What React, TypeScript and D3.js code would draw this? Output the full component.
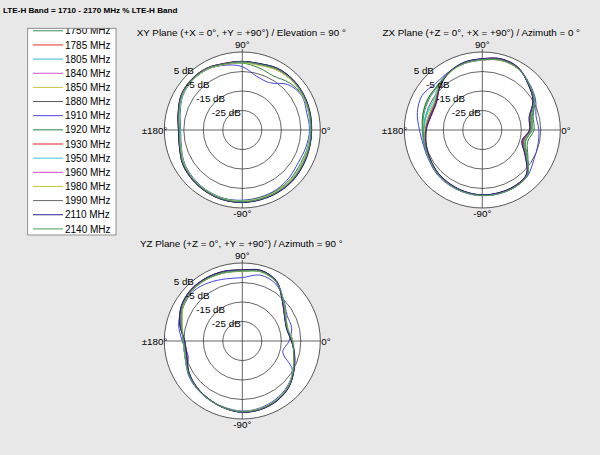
import React from "react";
import { scaleLinear, lineRadial, curveCatmullRomClosed } from "d3";

// measurement angles (deg, counter-clockwise from 0°)
const angles = [0, 15, 30, 45, 60, 75, 90, 105, 120, 135, 150, 165, 180, 195, 210, 225, 240, 255, 270, 285, 300, 315, 330, 345];

const freqs = ["1750 MHz", "1785 MHz", "1805 MHz", "1840 MHz", "1850 MHz", "1880 MHz", "1910 MHz", "1920 MHz", "1930 MHz", "1950 MHz", "1960 MHz", "1980 MHz", "1990 MHz", "2110 MHz", "2140 MHz"];

const lineColors = ["#3f8f55", "#e0302c", "#30bcd0", "#d050d0", "#c4c43a", "#555555", "#4646e0", "#2f7f45", "#d82020", "#38c4d8", "#d040c8", "#c8c840", "#666666", "#24248c", "#4a9a60"];

const ringTicks = [5, -5, -15, -25];

// gain in dB, one row per frequency, one value per angle
const xyGain = [
  [0.5, 0.8, 1.2, 1.0, 0.6, -0.3, -0.1, 0.1, 1.2, 1.4, 0.6, -1.5, -2.8, -1.8, 0.0, 1.0, 1.5, 1.9, 1.7, 1.4, 1.2, 1.0, 0.4, 0.2],
  [0.2, 0.4, 1.1, 1.6, 1.3, 0.0, 0.1, 0.3, 1.5, 1.7, 1.0, -1.1, -2.4, -1.8, 0.1, 0.9, 1.6, 2.1, 2.0, 1.8, 1.7, 1.5, 0.8, 0.3],
  [0.0, 0.3, 0.8, 1.2, 1.0, -0.4, -0.5, -0.2, 1.1, 1.2, 0.5, -1.6, -3.0, -2.3, -0.5, 0.5, 1.2, 1.6, 1.5, 1.4, 1.2, 1.1, 0.3, -0.1],
  [0.4, 0.6, 1.0, 1.4, 1.2, -0.1, -0.3, -0.1, 1.2, 1.5, 0.9, -1.2, -2.5, -1.9, -0.1, 0.8, 1.4, 1.8, 1.9, 1.7, 1.5, 1.2, 0.7, 0.4],
  [0.1, 0.2, 0.7, 0.9, 0.5, -0.6, -0.4, -0.1, 1.0, 1.3, 0.7, -1.4, -2.9, -2.2, -0.4, 0.6, 1.3, 1.7, 1.6, 1.3, 1.1, 0.9, 0.2, 0.0],
  [0.6, 0.9, 1.4, 1.7, 1.5, 0.2, 0.0, 0.2, 1.6, 1.8, 1.1, -1.0, -2.3, -1.6, 0.3, 1.2, 1.8, 2.2, 2.1, 1.9, 1.8, 1.6, 1.0, 0.6],
  [-0.5, -0.8, 0.2, -2.0, -7.0, -6.5, -2.5, -0.6, 0.9, 1.0, 0.2, -2.0, -3.4, -2.6, -0.8, 0.2, 0.9, 1.3, 1.0, 0.6, 0.2, -0.8, -1.8, -1.2],
  [0.0, 0.3, 0.6, -0.8, -3.0, -2.0, -0.7, -0.3, 1.0, 1.1, 0.4, -1.7, -3.0, -2.3, -0.6, 0.4, 1.0, 1.4, 1.2, 0.9, 0.6, 0.2, -0.6, -0.4],
  [0.3, 0.6, 1.1, 1.5, 1.2, 0.0, 0.2, 0.4, 1.6, 1.8, 1.2, -1.0, -2.3, -1.7, 0.2, 1.1, 1.7, 2.0, 1.9, 1.7, 1.6, 1.4, 0.9, 0.5],
  [-0.2, 0.1, 0.6, 0.9, 0.6, -0.5, -0.4, -0.1, 1.1, 1.2, 0.4, -1.7, -3.1, -2.4, -0.6, 0.4, 1.1, 1.5, 1.4, 1.2, 1.0, 0.7, 0.0, -0.3],
  [0.3, 0.5, 0.9, 1.2, 0.9, -0.2, -0.2, 0.0, 1.3, 1.5, 0.8, -1.3, -2.6, -2.0, -0.2, 0.7, 1.4, 1.8, 1.7, 1.5, 1.3, 1.1, 0.5, 0.2],
  [0.0, 0.2, 0.6, 0.8, 0.4, -0.7, -0.5, -0.2, 1.0, 1.2, 0.5, -1.5, -2.9, -2.3, -0.5, 0.5, 1.2, 1.6, 1.5, 1.2, 1.0, 0.8, 0.1, -0.1],
  [0.4, 0.7, 1.2, 1.5, 1.3, 0.1, 0.0, 0.2, 1.5, 1.7, 1.0, -1.1, -2.4, -1.7, 0.1, 1.0, 1.6, 2.0, 1.9, 1.7, 1.6, 1.4, 0.8, 0.4],
  [0.5, 0.9, 1.3, 1.6, 1.4, 0.2, 0.2, 0.3, 1.5, 1.6, 1.1, -0.9, -2.2, -1.6, 0.2, 1.1, 1.7, 2.1, 2.2, 2.0, 1.9, 1.7, 1.1, 0.7],
  [0.2, 0.5, 1.0, 1.3, 1.0, -0.2, -0.1, 0.1, 1.3, 1.4, 0.8, -1.3, -2.7, -2.0, -0.2, 0.7, 1.4, 1.8, 1.8, 1.6, 1.4, 1.2, 0.6, 0.3],
];

const zxGain = [
  [-9.5, -8.5, -4.0, -1.2, 1.6, 2.2, 1.2, 0.6, -0.8, -2.5, -3.0, -3.5, -4.2, -4.2, -3.8, -2.8, -2.3, -1.8, -1.4, -1.3, -1.3, -2.2, -8.5, -12.0],
  [-10.5, -9.8, -4.8, -1.6, 1.8, 2.6, 1.4, 0.8, -1.0, -4.0, -7.5, -7.5, -6.0, -5.0, -4.2, -3.2, -2.6, -2.0, -1.6, -1.6, -1.7, -2.8, -9.5, -13.5],
  [-10.0, -9.5, -4.5, -1.4, 1.4, 2.0, 1.0, 0.4, -1.2, -3.5, -6.5, -5.5, -5.2, -4.8, -4.0, -3.0, -2.4, -1.9, -1.5, -1.4, -1.4, -2.4, -9.0, -12.8],
  [-10.2, -9.6, -4.6, -1.5, 1.6, 2.3, 1.2, 0.6, -1.1, -3.8, -7.2, -7.0, -5.8, -4.8, -4.1, -3.1, -2.5, -2.0, -1.5, -1.5, -1.6, -2.6, -9.2, -13.2],
  [-9.8, -9.2, -4.3, -1.3, 1.4, 1.9, 0.9, 0.4, -1.2, -3.6, -6.8, -6.5, -5.6, -4.7, -4.0, -3.0, -2.4, -1.9, -1.5, -1.4, -1.4, -2.5, -9.0, -12.7],
  [-10.4, -9.8, -4.7, -1.6, 1.7, 2.4, 1.3, 0.7, -1.0, -3.9, -7.4, -7.2, -6.0, -5.0, -4.3, -3.2, -2.6, -2.1, -1.6, -1.6, -1.7, -2.7, -9.4, -13.4],
  [-6.0, -6.5, -3.5, -1.0, 1.6, 2.0, 0.8, 0.3, -0.6, -1.2, 0.6, -0.5, -2.8, -3.8, -3.5, -2.5, -2.0, -1.6, -1.3, -1.2, -1.2, -2.0, -4.5, -5.5],
  [-8.5, -8.0, -4.0, -1.2, 1.5, 2.1, 1.1, 0.5, -0.9, -2.8, -2.7, -3.5, -4.5, -4.6, -4.0, -3.0, -2.4, -1.9, -1.5, -1.4, -1.4, -2.3, -8.0, -11.0],
  [-10.6, -10.0, -4.9, -1.7, 1.9, 2.7, 1.5, 0.9, -0.9, -4.1, -7.8, -7.8, -6.2, -5.2, -4.3, -3.3, -2.7, -2.1, -1.7, -1.7, -1.8, -2.9, -9.6, -13.8],
  [-9.9, -9.3, -4.4, -1.4, 1.5, 2.0, 1.0, 0.5, -1.1, -3.3, -5.8, -5.0, -5.0, -4.7, -4.0, -3.0, -2.4, -1.9, -1.5, -1.4, -1.4, -2.4, -8.8, -12.6],
  [-10.3, -9.7, -4.7, -1.6, 1.7, 2.4, 1.3, 0.7, -1.0, -3.9, -7.3, -7.1, -5.9, -4.9, -4.2, -3.2, -2.6, -2.0, -1.6, -1.6, -1.6, -2.7, -9.3, -13.3],
  [-9.7, -9.1, -4.2, -1.3, 1.4, 1.9, 0.9, 0.4, -1.2, -3.5, -6.6, -6.3, -5.5, -4.6, -3.9, -2.9, -2.3, -1.8, -1.4, -1.3, -1.3, -2.4, -8.9, -12.5],
  [-10.3, -9.7, -4.6, -1.5, 1.7, 2.3, 1.2, 0.7, -1.0, -3.8, -7.1, -7.0, -5.9, -4.9, -4.2, -3.1, -2.5, -2.0, -1.6, -1.5, -1.6, -2.6, -9.3, -13.2],
  [-10.8, -10.2, -5.0, -1.8, 2.0, 2.8, 1.6, 1.0, -0.8, -4.2, -7.6, -7.6, -6.3, -5.3, -4.4, -3.4, -2.8, -2.2, -1.7, -1.8, -1.9, -3.0, -9.8, -14.0],
  [-9.6, -8.9, -4.2, -1.3, 1.5, 2.1, 1.1, 0.5, -0.9, -3.0, -3.5, -4.0, -4.6, -4.4, -3.9, -2.9, -2.3, -1.8, -1.4, -1.3, -1.3, -2.3, -8.7, -12.3],
];

const yzGain = [
  [-9.0, -10.8, -9.2, -5.2, 0.2, 2.0, 1.0, 1.4, 1.7, 1.6, 0.3, -2.8, -4.6, -4.5, -2.8, -1.4, -0.4, 0.6, 1.3, 1.0, 0.1, -1.6, -4.8, -7.6],
  [-9.6, -11.2, -9.8, -5.8, 0.1, 2.3, 1.3, 1.8, 2.1, 2.1, 0.9, -2.0, -5.3, -5.3, -3.2, -1.7, -0.6, 0.5, 1.4, 1.2, 0.3, -1.5, -4.6, -7.4],
  [-9.3, -11.0, -9.5, -5.5, 0.0, 1.9, 0.9, 1.3, 1.6, 1.5, 0.2, -3.2, -4.8, -4.7, -3.0, -1.6, -0.6, 0.4, 1.1, 0.8, -0.2, -1.9, -5.0, -7.8],
  [-9.5, -11.3, -9.7, -5.6, 0.1, 2.2, 1.2, 1.6, 2.0, 2.0, 0.8, -2.2, -5.2, -5.2, -3.1, -1.6, -0.5, 0.6, 1.4, 1.1, 0.2, -1.6, -4.7, -7.5],
  [-9.1, -10.9, -9.4, -5.4, 0.0, 1.9, 0.8, 1.2, 1.5, 1.5, 0.2, -3.0, -4.9, -4.8, -3.0, -1.5, -0.5, 0.4, 1.2, 0.9, -0.1, -1.8, -4.9, -7.7],
  [-9.7, -11.4, -9.9, -5.9, 0.3, 2.4, 1.4, 1.9, 2.2, 2.2, 1.0, -1.8, -5.4, -5.4, -3.3, -1.8, -0.7, 0.5, 1.5, 1.3, 0.4, -1.4, -4.5, -7.3],
  [-11.0, -8.8, -8.5, -5.0, -1.0, 0.0, -2.5, -2.0, -0.5, 0.8, 0.0, -1.2, -4.2, -6.2, -2.6, -1.3, -0.4, 0.2, 0.9, 0.5, -0.6, -2.3, -5.4, -13.5],
  [-9.2, -11.0, -9.4, -5.3, -0.2, 1.7, 0.7, 1.1, 1.5, 1.4, 0.0, -2.6, -4.7, -4.6, -2.9, -1.5, -0.5, 0.5, 1.2, 0.9, 0.0, -1.7, -4.9, -7.8],
  [-9.7, -11.3, -9.9, -5.9, 0.2, 2.4, 1.4, 1.9, 2.2, 2.2, 1.0, -1.9, -5.5, -5.5, -3.3, -1.8, -0.6, 0.6, 1.5, 1.3, 0.4, -1.4, -4.5, -7.3],
  [-9.2, -10.9, -9.4, -5.4, 0.0, 1.9, 0.9, 1.3, 1.6, 1.6, 0.3, -3.0, -4.7, -4.6, -2.9, -1.5, -0.5, 0.4, 1.2, 0.9, -0.1, -1.8, -4.9, -7.7],
  [-9.5, -11.2, -9.7, -5.7, 0.1, 2.2, 1.2, 1.7, 2.0, 2.0, 0.8, -2.1, -5.2, -5.2, -3.1, -1.7, -0.6, 0.5, 1.4, 1.1, 0.2, -1.6, -4.7, -7.5],
  [-9.1, -10.8, -9.3, -5.3, 0.0, 1.8, 0.8, 1.2, 1.5, 1.4, 0.1, -3.1, -4.8, -4.7, -3.0, -1.5, -0.5, 0.4, 1.1, 0.8, -0.2, -1.9, -5.0, -7.8],
  [-9.6, -11.3, -9.8, -5.8, 0.2, 2.3, 1.3, 1.8, 2.1, 2.1, 0.9, -2.0, -5.3, -5.3, -3.2, -1.7, -0.6, 0.5, 1.4, 1.2, 0.3, -1.5, -4.6, -7.4],
  [-9.8, -11.5, -10.0, -6.0, 0.3, 2.5, 1.5, 2.0, 2.3, 2.3, 1.1, -1.7, -5.5, -5.6, -3.4, -1.8, -0.7, 0.6, 1.6, 1.4, 0.5, -1.3, -4.4, -7.2],
  [-9.3, -11.0, -9.5, -5.4, 0.0, 1.9, 0.9, 1.3, 1.7, 1.6, 0.4, -2.7, -4.8, -4.7, -2.9, -1.5, -0.5, 0.5, 1.3, 1.0, 0.0, -1.7, -4.8, -7.7],
];

const FONT = "'Liberation Sans', Arial, Helvetica, sans-serif";
const R = 78;

// dB -> radius, outer ring is +5 dB
const rScale = scaleLinear().domain([-35, 5]).range([0, R]);

const PolarPlot = (props: { cx: number; cy: number; title: string; data: number[][] }) => {
  const { cx, cy, title, data } = props;

  const pattern = lineRadial<number>()
    .angle((d, i) => ((90 - angles[i]) * Math.PI) / 180)
    .radius((d) => rScale(d))
    .curve(curveCatmullRomClosed.alpha(0.5));

  return (
    <g transform={`translate(${cx},${cy})`} fontFamily={FONT}>
      <text x={-1} y={-R - 16} fontSize={9.8} textAnchor="middle">
        {title}
      </text>
      <circle r={R} fill="#fff" stroke="#444" strokeWidth={0.9} />
      {ringTicks.slice(1).map((t) => (
        <circle key={t} r={rScale(t)} fill="none" stroke="#222" strokeWidth={0.7} />
      ))}
      <line x1={-R} x2={R} y1={0} y2={0} stroke="#222" strokeWidth={0.7} />
      <line x1={0} x2={0} y1={-R - 3} y2={R} stroke="#222" strokeWidth={0.7} />
      {data.map((row, i) => (
        <path key={freqs[i]} d={pattern(row) || ""} fill="none" stroke={lineColors[i]} strokeWidth={1} />
      ))}
      {ringTicks.map((t) => {
        const r = rScale(t);
        return (
          <text key={t} x={-0.8 * r + 14} y={-0.72 * r} fontSize={9.8} textAnchor="end">
            {`${t} dB`}
          </text>
        );
      })}
      <text x={0} y={-R - 4} fontSize={9.8} textAnchor="middle">90°</text>
      <text x={0} y={R + 9} fontSize={9.8} textAnchor="middle">-90°</text>
      <text x={R + 1} y={3.5} fontSize={9.8}>0°</text>
      <text x={-R + 3} y={3.5} fontSize={9.8} textAnchor="end">±180°</text>
    </g>
  );
};

const Legend = () => {
  const top = 28.3;
  const rowY = scaleLinear().domain([0, 1]).range([30.8, 44.95]);
  return (
    <g fontFamily={FONT}>
      <defs>
        <clipPath id="legendClip">
          <rect x={27.7} y={top} width={88.3} height={206.7} />
        </clipPath>
      </defs>
      <rect x={27.7} y={top} width={88.3} height={206.7} fill="#fff" />
      <g clipPath="url(#legendClip)">
        {freqs.map((f, i) => (
          <g key={f}>
            <line x1={33} x2={63} y1={rowY(i)} y2={rowY(i)} stroke={lineColors[i]} strokeWidth={1} />
            <text x={65} y={rowY(i) + 3.6} fontSize={10}>
              {f}
            </text>
          </g>
        ))}
      </g>
      <rect x={27.7} y={top} width={88.3} height={206.7} fill="none" stroke="#777" strokeWidth={0.8} />
    </g>
  );
};

const App = () => {
  return (
    <svg
      width={600}
      height={455}
      style={{ position: "absolute", left: 0, top: 0, background: "#e8e8e8" }}
    >
      <rect width={600} height={455} fill="#e8e8e8" />
      <text x={3} y={13} fontFamily={FONT} fontSize={8.1} fontWeight="bold">
        LTE-H Band = 1710 - 2170 MHz % LTE-H Band
      </text>
      <Legend />
      <PolarPlot cx={242.3} cy={130} title="XY Plane (+X = 0°, +Y = +90°) / Elevation = 90 °" data={xyGain} />
      <PolarPlot cx={482.3} cy={130} title="ZX Plane (+Z = 0°, +X = +90°) / Azimuth = 0 °" data={zxGain} />
      <PolarPlot cx={242.3} cy={341} title="YZ Plane (+Z = 0°, +Y = +90°) / Azimuth = 90 °" data={yzGain} />
    </svg>
  );
};

export default App;
